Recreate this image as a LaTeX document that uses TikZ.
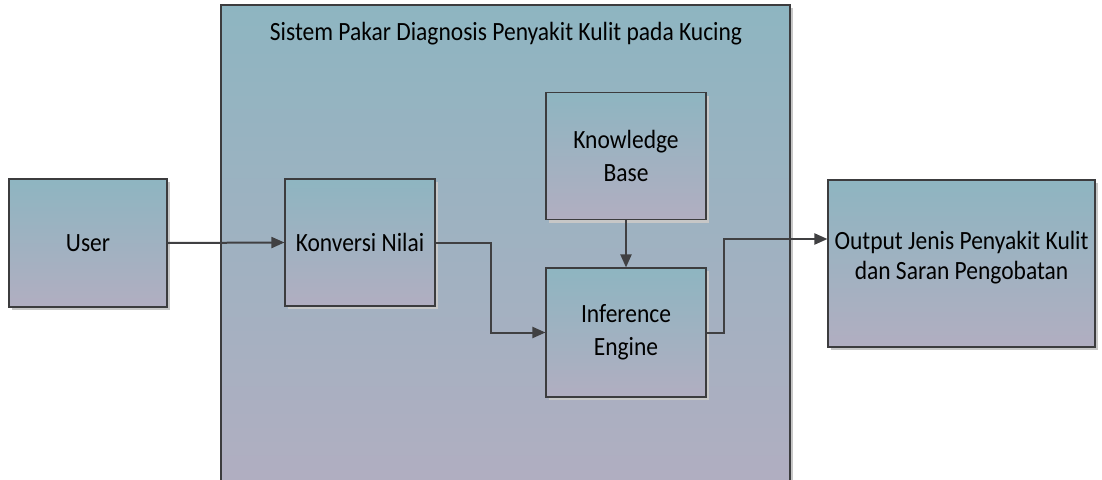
\documentclass[tikz,border=0pt]{standalone}
\usepackage{fontspec}
\usepackage{graphicx}
\setmainfont{Carlito}
\usetikzlibrary{arrows.meta,shadows}
\definecolor{boxtop}{RGB}{142,181,193}
\definecolor{boxbot}{RGB}{177,174,193}
\definecolor{edge}{RGB}{60,60,62}
\definecolor{wire}{RGB}{64,64,66}
% slightly tall lettering
\newcommand\tallword[1]{\scalebox{1}[1.12]{#1}}
\begin{document}
\begin{tikzpicture}[x=1pt,y=-1pt,
  block/.style={rectangle,draw=edge,line width=1.1pt,inner sep=0pt,
    top color=boxtop,bottom color=boxbot,align=center,
    font=\fontsize{23.5}{33}\selectfont,
    drop shadow={shadow xshift=3pt,shadow yshift=-3pt,fill=black!22,opacity=1}},
  link/.style={draw=wire,line width=2pt,-{Triangle[length=13pt,width=11pt]}},
  caption/.style={font=\fontsize{23.5}{33}\selectfont,inner sep=0pt}]
  % canvas and clipping to the visible area
  \clip (0,0) rectangle (1102,479);
  \fill[white] (0,0) rectangle (1102,479);

  % surrounding system box (runs past the lower border)
  \node[block,minimum width=569pt,minimum height=485pt] (sys) at (505.5,247.5) {};
  \node[caption] (title) at (506,34) {\tallword{Sistem Pakar Diagnosis Penyakit Kulit pada Kucing}};

  % blocks
  \node[block,minimum width=158pt,minimum height=128pt] (user) at (88,243) {\tallword{User}};
  \node[block,minimum width=150pt,minimum height=127pt] (konv) at (360,242.5) {\tallword{Konversi Nilai}};
  \node[block,minimum width=160pt,minimum height=127pt] (kb) at (626,156) {\tallword{Knowledge}\\\tallword{Base}};
  \node[block,minimum width=160pt,minimum height=129pt] (inf) at (626,332.5) {\tallword{Inference}\\\tallword{Engine}};
  \node[block,minimum width=267pt,minimum height=167pt] (out) at (961.5,263.5)
    {\raisebox{16pt}{\shortstack{\tallword{Output Jenis Penyakit Kulit}\\[5pt]\tallword{dan Saran Pengobatan}}}};

  % connectors
  \draw[link] (user.east) -- (konv.west);
  \draw[link] (konv.east) -- ++(55,0) |- (inf.west);
  \draw[link] (kb.south) -- (inf.north);
  \draw[link] (inf.east) -- ++(17,0) |- ([yshift=24.5pt]out.west);
\end{tikzpicture}
\end{document}
